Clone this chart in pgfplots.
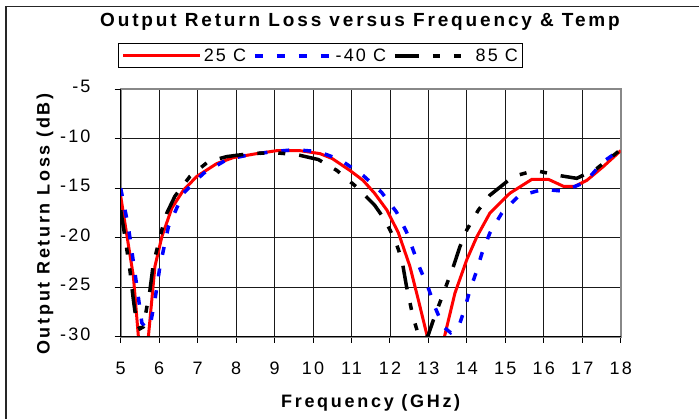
\documentclass[border=0pt]{standalone}
\usepackage{fontspec}
\setmainfont{Liberation Sans}
\newfontfamily\tickfont{Liberation Sans}[LetterSpace=12]
\newfontfamily\labfont{Liberation Sans}[LetterSpace=15]
\usepackage{pgfplots}
\pgfplotsset{compat=1.18}
\definecolor{pgray}{RGB}{136,136,136}
\begin{document}
\begin{tikzpicture}
\path[use as bounding box] (-120.7pt,-82.3pt) rectangle (578.3pt,336.7pt);
\draw[line width=1.5pt, black!85] (-114.7pt,-100pt) -- (-114.7pt,330.2pt) -- (620pt,330.2pt);
\begin{axis}[
  name=ax, at={(0pt,0pt)}, anchor=south west,
  scale only axis, width=500pt, height=247.4pt,
  xmin=5, xmax=18, ymin=-30, ymax=-5,
  xtick={5,6,...,18}, ytick={-30,-25,...,-5},
  grid=major, major grid style={black!90, line width=0.8pt},
  axis line style={draw=pgray, line width=2pt},
  xtick pos=lower, ytick pos=left,
  tick align=outside, major tick length=6pt,
  tick style={black, line width=1pt},
  /pgf/number format/assume math mode=true,
  ticklabel style={font=\tickfont\fontsize{18}{18}\selectfont},
  xticklabel style={anchor=center, yshift=-28pt},
  yticklabel style={anchor=east, xshift=-20.7pt},
  typeset ticklabels with strut,
  xlabel={Frequency (GHz)},
  ylabel={Output Return Loss (dB)},
  label style={font=\labfont\bfseries\fontsize{18}{18}\selectfont},
  xlabel style={at={(axis description cs:0.5,-0.268)}, anchor=center},
  ylabel style={at={(axis description cs:-0.1514,0.455)}, anchor=center},
  legend columns=3,
  legend style={at={(axis description cs:-0.0048,1.186)}, anchor=north west,
    draw=black, line width=1pt, font=\tickfont\fontsize{18}{18}\selectfont,
    inner xsep=3pt, inner ysep=3pt,
    /tikz/every even column/.append style={column sep=5pt}},
  legend image code/.code={\draw[#1] (0pt,0pt) -- (77pt,0pt);},
]
\addplot[red, line width=3pt] coordinates {
(5,-15.8) (5.15,-19.5) (5.33,-23.9) (5.46,-30) (5.59,-36) (5.72,-30) (5.89,-22.9)
(6.07,-19.9) (6.33,-17.0) (6.63,-15.2) (6.98,-13.8) (7.5,-12.5) (7.93,-11.9)
(8.54,-11.5) (9.06,-11.2) (9.66,-11.2) (10.18,-11.5) (10.5,-12.0) (10.96,-13.2)
(11.3,-14.2) (11.6,-15.5) (11.92,-17.2) (12.22,-19.5) (12.52,-22.9) (12.74,-26.3)
(12.96,-29.8) (13.2,-33.6) (13.43,-29.8) (13.69,-25.6) (14.0,-22.2) (14.26,-19.9)
(14.6,-17.5) (15.12,-15.5) (15.69,-14.1) (16.12,-14.1) (16.51,-14.8) (16.81,-14.8)
(17.12,-14.2) (17.55,-12.8) (18,-11.2)
};
\addlegendentry{25 C}
\addplot[blue, line width=3.5pt, dash pattern=on 8pt off 14pt] coordinates {
(5,-15.0) (5.2,-18.9) (5.42,-24.9) (5.55,-28.6) (5.65,-29.1) (5.76,-29.0) (5.89,-26.3)
(6.02,-22.9) (6.24,-18.9) (6.63,-15.5) (7.15,-13.5) (7.76,-12.1) (8.36,-11.6)
(8.97,-11.3) (9.53,-11.1) (10.14,-11.3) (10.7,-12.1) (11.3,-13.7) (11.78,-15.4)
(12.17,-17.4) (12.43,-19.4) (12.6,-21.2) (12.78,-23.1) (13.0,-25.1) (13.17,-27.0)
(13.39,-29.0) (13.58,-29.6) (13.78,-29.1) (13.95,-27.1) (14.08,-25.3) (14.26,-23.3)
(14.39,-21.6) (14.6,-19.5) (14.91,-17.5) (15.34,-15.8) (15.99,-15.1) (16.51,-15.3)
(17.07,-14.4) (17.55,-12.3) (18,-11.1)
};
\addlegendentry{-40 C}
\addplot[black, line width=3.5pt, dash pattern=on 24pt off 14pt on 7pt off 14pt on 7pt off 14pt] coordinates {
(5,-17.2) (5.11,-19.9) (5.24,-23.3) (5.33,-26.3) (5.41,-28.5) (5.5,-29.2) (5.59,-29.0)
(5.68,-27.0) (5.76,-25.3) (5.85,-22.6) (6.07,-19.2) (6.2,-17.5) (6.41,-15.8)
(6.8,-13.8) (7.28,-12.3) (7.76,-11.8) (8.36,-11.5) (8.97,-11.4) (9.58,-11.6)
(10.14,-12.1) (10.62,-13.2) (11.14,-14.9) (11.6,-16.7) (11.87,-18.2) (12.13,-20.2)
(12.31,-22.2) (12.43,-24.9) (12.6,-28.0) (12.74,-29.8) (12.87,-30.5) (13.0,-29.8)
(13.13,-28.3) (13.39,-25.6) (13.65,-22.9) (13.82,-20.9) (14.0,-19.2) (14.3,-17.2)
(14.6,-15.7) (15.21,-13.8) (15.77,-13.2) (16.38,-13.7) (16.86,-14.0) (17.38,-13.0)
(18,-11.1)
};
\addlegendentry{85 C}
\end{axis}
\draw[black, line width=1.5pt] (0pt,247.4pt) -- (0pt,0pt) -- (500pt,0pt);
\node[font=\labfont\bfseries\fontsize{19}{19}\selectfont] at (239.3pt,314.7pt) {Output Return Loss versus Frequency \& Temp};
\end{tikzpicture}
\end{document}
